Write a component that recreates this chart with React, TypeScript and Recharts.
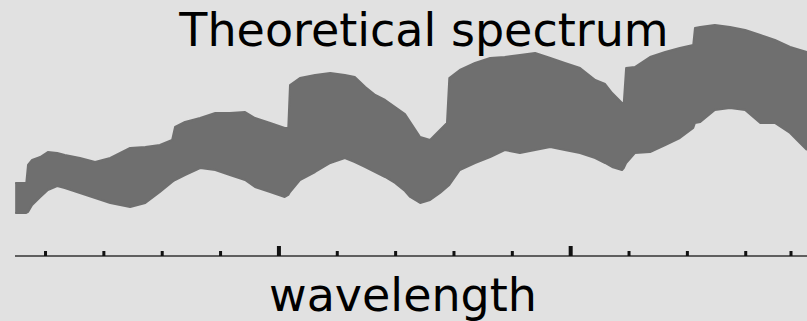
import { Area, ComposedChart, XAxis, YAxis } from "recharts";

// wavelength positions (arbitrary units, ticks every 100)
const wavelengths = [
  48, 67, 70, 77, 91, 104, 120, 133, 159, 185, 211, 228, 245, 271, 296, 317, 322, 339, 365, 391,
  416, 442, 459, 485, 510, 516, 519, 536, 562, 588, 613, 630, 648, 665, 682, 699, 716, 725, 742, 759,
  776, 788, 792, 810, 836, 862, 887, 913, 939, 965, 990, 1016, 1042, 1059, 1071, 1088, 1091, 1095, 1110, 1136,
  1162, 1187, 1210, 1213, 1222, 1247, 1273, 1299, 1325, 1350, 1376, 1393, 1405,
];

// upper envelope of the noisy spectrum
const upper = [
  73, 73, 91, 96, 99, 104, 103, 101, 98, 94, 98, 103, 108, 109, 111, 116, 129, 134, 138, 143,
  143, 144, 138, 133, 128, 128, 171, 178, 181, 183, 181, 179, 169, 161, 156, 149, 142, 134, 119, 116,
  126, 133, 178, 186, 193, 198, 199, 201, 203, 198, 193, 188, 176, 172, 163, 153, 153, 188, 189, 199,
  204, 208, 211, 228, 229, 231, 229, 226, 221, 216, 209, 206, 204,
];

// lower envelope of the noisy spectrum
const lower = [
  43, 43, 44, 51, 59, 66, 70, 68, 63, 58, 53, 51, 49, 53, 64, 74, 76, 81, 88, 86,
  81, 76, 69, 64, 59, 61, 64, 76, 84, 93, 98, 94, 89, 84, 79, 73, 65, 59, 53, 56,
  63, 69, 71, 86, 93, 99, 106, 103, 106, 109, 106, 103, 98, 93, 89, 86, 88, 93, 103, 104,
  111, 118, 128, 133, 134, 146, 148, 146, 133, 133, 123, 113, 106,
];

const tickValues = [100, 200, 300, 400, 500, 600, 700, 800, 900, 1000, 1100, 1200, 1300, 1400];

const data = wavelengths.map((w, i) => ({ w, band: [lower[i], upper[i]] }));

const AXIS_Y = 256;

const Tick = (props: any) => {
  const { x, payload } = props;
  const major = payload.value % 500 === 0;
  return (
    <rect
      x={x - (major ? 2 : 1.5)}
      y={AXIS_Y - (major ? 10 : 5)}
      width={major ? 4 : 3}
      height={major ? 10 : 5}
      fill="#111"
    />
  );
};

export default function App() {
  return (
    <div style={{ position: "fixed", left: 0, top: 0, width: 807, height: 321, background: "#e1e1e1" }}>
      <ComposedChart width={807} height={321} data={data} margin={{ top: 0, right: 0, bottom: 0, left: 15 }}>
        <XAxis
          dataKey="w"
          type="number"
          domain={[47.7, 1405]}
          ticks={tickValues}
          tick={<Tick />}
          tickLine={false}
          height={65}
          stroke="#333"
          strokeWidth={1.5}
          allowDataOverflow
        />
        <YAxis hide domain={[0, 256]} width={0} allowDataOverflow />
        <Area
          dataKey="band"
          type="linear"
          fill="#6f6f6f"
          fillOpacity={1}
          stroke="#6f6f6f"
          strokeWidth={2}
          strokeLinejoin="round"
          isAnimationActive={false}
          dot={false}
          activeDot={false}
        />
      </ComposedChart>
      <svg width={807} height={321} style={{ position: "absolute", left: 0, top: 0, pointerEvents: "none" }}>
        <text x={424} y={45.5} textAnchor="middle" fontFamily="DejaVu Sans" fontSize={46} fill="#000">
          Theoretical spectrum
        </text>
        <text x={403} y={310.5} textAnchor="middle" fontFamily="DejaVu Sans" fontSize={46} fill="#000">
          wavelength
        </text>
      </svg>
    </div>
  );
}
